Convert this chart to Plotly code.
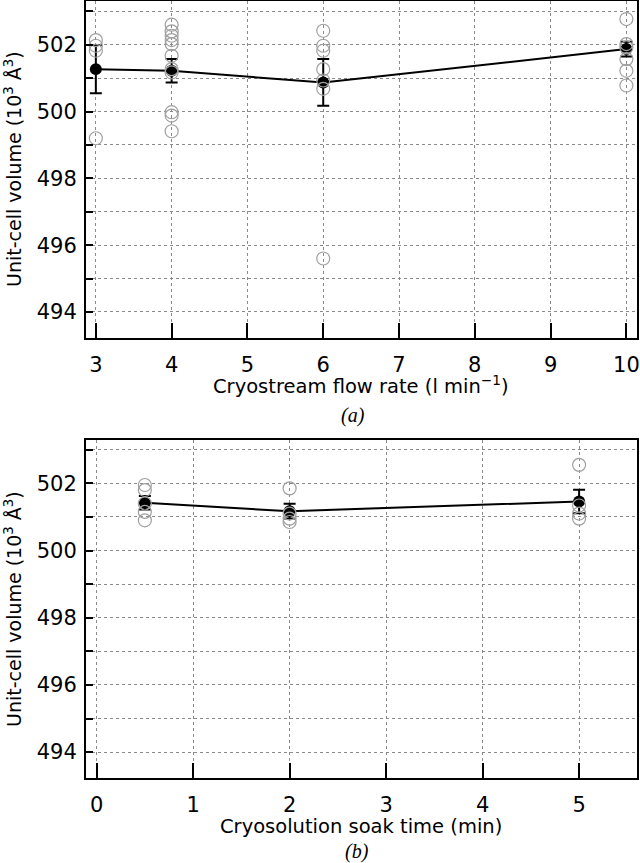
import plotly.graph_objects as go

# ---- Data (a): cryostream flow rate ----
flow_rate = [3, 4, 6, 10]
flow_mean = [501.27, 501.22, 500.87, 501.87]
flow_err = [0.72, 0.35, 0.70, 0.22]
flow_pts_3 = [502.14, 501.97, 501.82, 499.20]
flow_pts_4 = [502.60, 502.40, 502.27, 502.14, 502.02, 501.67, 501.27, 501.17, 499.98, 499.88, 499.41]
flow_pts_6 = [502.42, 501.97, 501.82, 501.27, 500.93, 500.68, 495.60]
flow_pts_10 = [502.77, 502.02, 501.92, 501.57, 501.22, 500.78]

# ---- Data (b): cryosolution soak time ----
soak_time = [0.5, 2, 5]
soak_mean = [501.42, 501.17, 501.46]
soak_err = [0.20, 0.22, 0.35]
soak_pts_05 = [501.95, 501.80, 501.40, 501.15, 500.90]
soak_pts_2 = [501.85, 501.10, 500.95, 500.85]
soak_pts_5 = [502.55, 501.34, 501.10, 500.95]

y_major = [494, 496, 498, 500, 502]
y_minor = [495, 497, 499, 501, 503]
flow_ticks = [3, 4, 5, 6, 7, 8, 9, 10]
soak_ticks = [0, 1, 2, 3, 4, 5]

FONT = "DejaVu Sans"
GRAY = "#a0a0a0"
GRID = "#8a8a8a"

fig = go.Figure()

def add_panel(xs, groups, means, errs, xa, ya):
    px, py = [], []
    for x, g in zip(xs, groups):
        px += [x] * len(g)
        py += g
    fig.add_trace(go.Scatter(
        x=xs, y=means, mode="lines+markers", xaxis=xa, yaxis=ya,
        line=dict(color="black", width=2),
        marker=dict(color="black", size=12),
        error_y=dict(type="data", array=errs, color="black", thickness=2, width=6),
        showlegend=False))
    fig.add_trace(go.Scatter(
        x=px, y=py, mode="markers", xaxis=xa, yaxis=ya,
        marker=dict(symbol="circle-open", color=GRAY, size=13, line=dict(width=1.2, color=GRAY)),
        showlegend=False))

add_panel(flow_rate, [flow_pts_3, flow_pts_4, flow_pts_6, flow_pts_10],
          flow_mean, flow_err, "x", "y")
add_panel(soak_time, [soak_pts_05, soak_pts_2, soak_pts_5],
          soak_mean, soak_err, "x2", "y2")

H = 863
T, B = 1, 85
PH = H - T - B

def py(Y):
    return (H - B - Y) / PH

axis_common = dict(
    showline=True, linecolor="black", linewidth=2, mirror=True,
    ticks="inside", tickcolor="black", tickwidth=2, automargin=False,
    showgrid=True, gridcolor=GRID, gridwidth=1, griddash="dot",
    zeroline=False, tickfont=dict(family=FONT, size=21, color="black"),
)
y_minor_cfg = dict(tickvals=y_minor, ticks="inside", ticklen=7, tickwidth=2,
                   tickcolor="black", showgrid=True, gridcolor=GRID, gridwidth=1,
                   griddash="dot")

fig.update_layout(
    width=640, height=H,
    margin=dict(l=86, r=3, t=T, b=B, autoexpand=False),
    paper_bgcolor="white", plot_bgcolor="white",
    xaxis=dict(axis_common, domain=[0, 1], anchor="y", range=[2.87, 10.14],
               tickmode="array", tickvals=flow_ticks, ticklen=15, ticklabelstandoff=7),
    yaxis=dict(axis_common, domain=[py(338), 1], anchor="x", range=[493.22, 503.31],
               tickmode="array", tickvals=y_major, ticklen=7, minor=y_minor_cfg,
               ticklabelstandoff=3),
    xaxis2=dict(axis_common, domain=[0, 1], anchor="y2", range=[-0.11, 5.6],
                tickmode="array", tickvals=soak_ticks, ticklen=15, ticklabelstandoff=7),
    yaxis2=dict(axis_common, domain=[0, py(440)], anchor="x2", range=[493.23, 503.29],
                tickmode="array", tickvals=y_major, ticklen=7, minor=y_minor_cfg,
                ticklabelstandoff=3),
)

ann_font = dict(family=FONT, size=19.5, color="black")
ytitle_font = dict(family=FONT, size=19, color="black")
cap_font = dict(family="Liberation Serif", size=20, color="black")
xc = (361 - 86) / 551
yt_x = (13 - 86) / 551
annotations = [
    dict(text="Cryostream flow rate (l min<sup>\u22121</sup>)", x=xc, y=py(385),
         xref="paper", yref="paper", showarrow=False, font=ann_font,
         xanchor="center", yanchor="middle"),
    dict(text="<i>(a)</i>", x=(353 - 86) / 551, y=py(415), xref="paper", yref="paper",
         showarrow=False, font=cap_font, xanchor="center", yanchor="middle"),
    dict(text="Cryosolution soak time (min)", x=xc, y=py(826),
         xref="paper", yref="paper", showarrow=False, font=ann_font,
         xanchor="center", yanchor="middle"),
    dict(text="<i>(b)</i>", x=(357 - 86) / 551, y=py(851), xref="paper", yref="paper",
         showarrow=False, font=cap_font, xanchor="center", yanchor="middle"),
    dict(text="Unit-cell volume (10<sup>3</sup> \u00c5<sup>3</sup>)", x=yt_x, y=py(169),
         xref="paper", yref="paper", showarrow=False, font=ytitle_font, textangle=-90,
         xanchor="center", yanchor="middle"),
    dict(text="Unit-cell volume (10<sup>3</sup> \u00c5<sup>3</sup>)", x=yt_x, y=py(609),
         xref="paper", yref="paper", showarrow=False, font=ytitle_font, textangle=-90,
         xanchor="center", yanchor="middle"),
]
fig.update_layout(annotations=annotations)

fig.write_html("out.html", config={"displayModeBar": False},
               post_script="document.body.style.margin='0';document.body.style.padding='0';")
